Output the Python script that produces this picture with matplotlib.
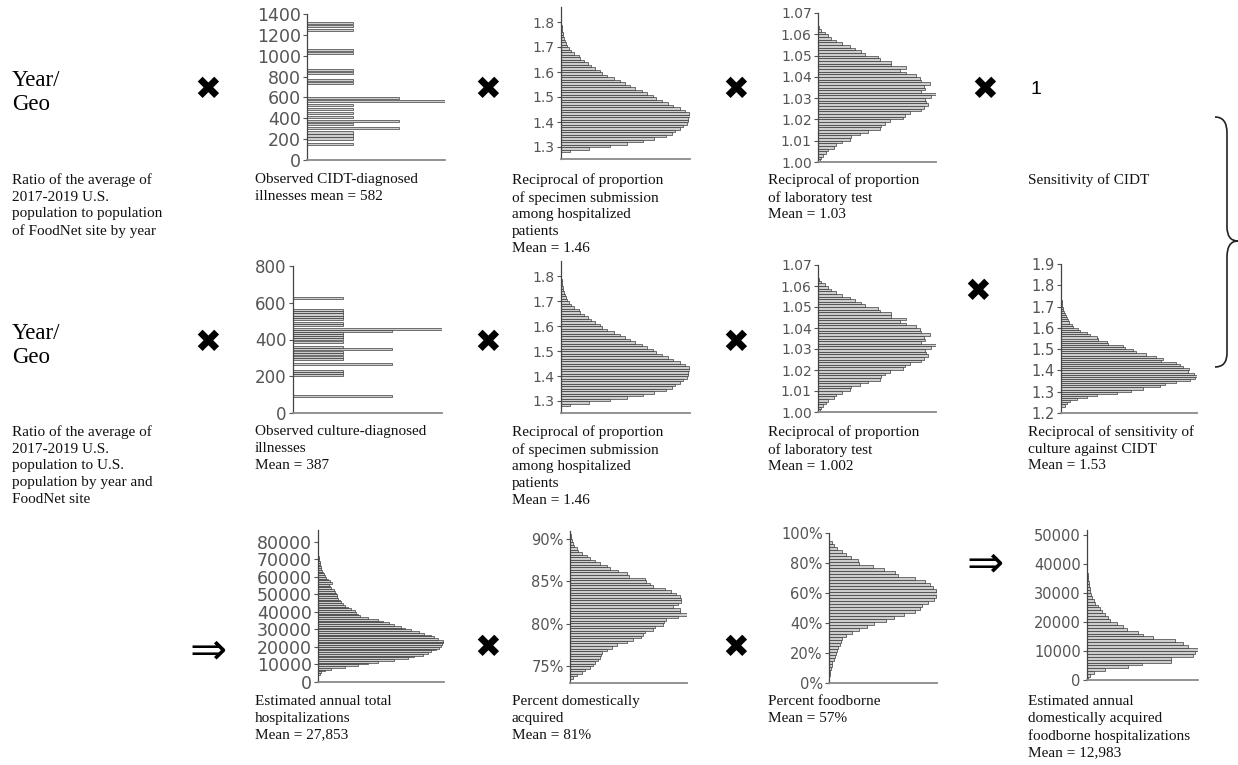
import numpy as np
import matplotlib
matplotlib.use("Agg")
import matplotlib.pyplot as plt
from matplotlib.path import Path
from matplotlib.patches import PathPatch

W, H = 1238, 765

# observed illnesses (discrete values with their counts)
cidt_vals = [154, 206, 235, 264, 306, 344, 376, 415, 454, 486, 528, 563, 595,
             740, 766, 830, 862, 1030, 1059, 1245, 1287, 1310]
cidt_counts = [1, 1, 1, 1, 2, 1, 2, 1, 1, 1, 1, 3, 2, 1, 1, 1, 1, 1, 1, 1, 1, 1]

cult_vals = [90, 206, 220, 231, 267, 294, 307, 321, 334, 347, 359, 388, 401, 412,
             424, 437, 448, 459, 477, 488, 511, 524, 536, 549, 558, 627]
cult_counts = [2, 1, 1, 1, 2, 1, 1, 1, 1, 2, 1, 1, 1, 1, 1, 1, 2, 3, 1, 1, 1, 1,
               1, 1, 1, 1]

# reciprocal of specimen submission proportion, bins of 0.01 from 1.28
spec_start, spec_w = 1.28, 0.01
spec_counts = [28, 83, 148, 198, 248, 280, 315, 333, 343, 358, 366, 378, 383, 383,
               388, 386, 373, 358, 338, 323, 303, 286, 276, 258, 243, 223, 208,
               193, 178, 158, 138, 123, 118, 101, 90, 80, 68, 56, 55, 38, 30, 23,
               18, 15, 11, 9, 7, 5, 4, 3, 2, 1, 1, 1, 1, 1]

# reciprocal of laboratory test proportion, bins of 0.00125 from 1.00
lab_start, lab_w = 1.0, 0.00125
lab_counts = [5, 10, 15, 25, 30, 48, 55, 72, 95, 100, 125, 150, 185, 190, 200, 215,
              255, 260, 275, 310, 318, 330, 325, 320, 340, 354, 310, 320, 318, 335,
              310, 305, 295, 265, 245, 265, 218, 220, 185, 180, 140, 130, 110, 95,
              72, 55, 40, 30, 20, 10, 3]

# reciprocal of culture sensitivity, bins of 0.01 from 1.23
sens_start, sens_w = 1.23, 0.01
sens_counts = [12, 19, 27, 47, 77, 107, 167, 210, 247, 297, 312, 347, 387, 402, 409,
               400, 382, 385, 367, 357, 347, 302, 307, 287, 257, 227, 217, 192, 187,
               142, 137, 112, 107, 87, 77, 57, 52, 35, 32, 25, 22, 18, 15, 12, 9, 7,
               5, 4, 3, 2, 1, 1, 1, 1, 1, 1, 1]

# total hospitalizations, bins of 1000 from 4000
hosp_start, hosp_w = 4000, 1000
hosp_counts = [5, 10, 20, 40, 80, 120, 150, 180, 230, 270, 290, 315, 330, 340, 355,
               365, 370, 372, 379, 375, 360, 350, 340, 320, 305, 280, 262, 250, 230,
               215, 195, 180, 150, 125, 120, 115, 110, 100, 90, 80, 75, 70, 65, 60,
               58, 56, 55, 50, 47, 40, 37, 32, 42, 35, 30, 25, 20, 18, 15, 12, 10, 8,
               7, 6, 5, 4, 3, 2, 1, 1, 1, 1, 1]

# percent domestically acquired, bins of 0.3 from 73.45
dom_start, dom_w = 73.45, 0.3
dom_counts = [10, 20, 35, 45, 60, 70, 75, 85, 90, 92, 95, 110, 125, 140, 170, 190,
              215, 220, 225, 250, 255, 280, 282, 290, 325, 352, 330, 330, 310, 325,
              335, 335, 330, 320, 305, 285, 250, 240, 230, 225, 178, 170, 145, 120,
              110, 90, 75, 60, 50, 35, 25, 20, 12, 8, 5, 3, 2, 1]

# percent foodborne, bins of 2 from 5
food_start, food_w = 5, 2
food_counts = [2, 3, 5, 8, 10, 14, 18, 22, 25, 28, 32, 35, 40, 50, 70, 90, 112, 135,
               170, 195, 225, 255, 270, 278, 295, 312, 318, 322, 318, 310, 300, 285,
               255, 205, 198, 165, 130, 90, 85, 65, 50, 40, 25, 15, 10]

# domestically acquired foodborne hospitalizations, bins of 1000 from 0
dfh_start, dfh_w = 0, 1000
dfh_counts = [3, 10, 20, 55, 125, 165, 255, 255, 320, 325, 335, 305, 290, 265, 200,
              170, 155, 120, 110, 90, 70, 62, 55, 45, 38, 32, 25, 20, 15, 12, 10, 8,
              6, 5, 4, 3, 2, 1, 1, 1, 1, 1, 1, 1, 1]

fig = plt.figure(figsize=(W / 100, H / 100), dpi=100)
bg = fig.add_axes([0, 0, 1, 1])
bg.set_xlim(0, W)
bg.set_ylim(H, 0)
bg.axis("off")


def panel(x0, x1, ytop, ybot, lows, counts, bw, ylim, ticks, labels, fs, xmax=None):
    ax = fig.add_axes([x0 / W, 1 - ybot / H, (x1 - x0) / W, (ybot - ytop) / H])
    ax.barh(lows, counts, height=bw, align="edge", color="#cdcdcd",
            edgecolor="#2b2b2b", linewidth=0.45)
    ax.set_ylim(*ylim)
    ax.set_xlim(0, xmax if xmax else max(counts))
    ax.set_yticks(ticks)
    ax.set_yticklabels(labels, fontsize=fs, color="#555555", family="DejaVu Sans")
    ax.set_xticks([])
    ax.tick_params(axis="y", length=3, width=0.8, color="#555555", pad=1.5)
    for s in ("top", "right"):
        ax.spines[s].set_visible(False)
    ax.spines["left"].set_color("#444444")
    ax.spines["left"].set_linewidth(0.9)
    ax.spines["bottom"].set_color("#8a8a8a")
    ax.spines["bottom"].set_linewidth(1.3)
    ax.patch.set_alpha(0)
    return ax


def lows(start, w, counts):
    return start + w * np.arange(len(counts))


# row 1
panel(307, 445, 14, 160, np.array(cidt_vals) - 10, cidt_counts, 20, (0, 1400),
      range(0, 1401, 200), [str(v) for v in range(0, 1401, 200)], 12.5, xmax=3)
panel(561, 690, 7, 159, lows(spec_start, spec_w, spec_counts), spec_counts, spec_w,
      (1.252, 1.86), [1.3, 1.4, 1.5, 1.6, 1.7, 1.8],
      ["1.3", "1.4", "1.5", "1.6", "1.7", "1.8"], 10)
panel(818, 936, 13, 162, lows(lab_start, lab_w, lab_counts), lab_counts, lab_w,
      (1.0, 1.07), np.linspace(1.0, 1.07, 8),
      ["1.00", "1.01", "1.02", "1.03", "1.04", "1.05", "1.06", "1.07"], 10)

# row 2
panel(293, 442, 266, 413, np.array(cult_vals) - 5.5, cult_counts, 11, (0, 800),
      range(0, 801, 200), [str(v) for v in range(0, 801, 200)], 12, xmax=3)
panel(561, 690, 261, 413, lows(spec_start, spec_w, spec_counts), spec_counts, spec_w,
      (1.252, 1.86), [1.3, 1.4, 1.5, 1.6, 1.7, 1.8],
      ["1.3", "1.4", "1.5", "1.6", "1.7", "1.8"], 10)
panel(818, 936, 265, 412, lows(lab_start, lab_w, lab_counts), lab_counts, lab_w,
      (1.0, 1.07), np.linspace(1.0, 1.07, 8),
      ["1.00", "1.01", "1.02", "1.03", "1.04", "1.05", "1.06", "1.07"], 10)
panel(1061, 1197, 264, 413, lows(sens_start, sens_w, sens_counts), sens_counts, sens_w,
      (1.2, 1.9), np.linspace(1.2, 1.9, 8),
      ["1.2", "1.3", "1.4", "1.5", "1.6", "1.7", "1.8", "1.9"], 10.5)

# row 3
panel(318, 444, 530, 682, lows(hosp_start, hosp_w, hosp_counts), hosp_counts, hosp_w,
      (0, 86857), range(0, 80001, 10000),
      [str(v) for v in range(0, 80001, 10000)], 12.5)
panel(570, 687, 531, 683, lows(dom_start, dom_w, dom_counts), dom_counts, dom_w,
      (72.98, 90.95), [75, 80, 85, 90], ["75%", "80%", "85%", "90%"], 10.5)
panel(829, 937, 533, 683, lows(food_start, food_w, food_counts), food_counts, food_w,
      (0, 100), range(0, 101, 20), ["%d%%" % v for v in range(0, 101, 20)], 10.5)
panel(1087, 1198, 530, 680, lows(dfh_start, dfh_w, dfh_counts), dfh_counts, dfh_w,
      (0, 51724), range(0, 50001, 10000),
      [str(v) for v in range(0, 50001, 10000)], 10.5)

serif = dict(family="Liberation Serif", fontsize=11, color="#111111",
             va="top", ha="left", linespacing=1.38)

for y in (70, 323):
    bg.text(12, y, "Year/\nGeo", family="Liberation Serif", fontsize=16.5,
            va="top", ha="left", linespacing=1.2)

captions = [
    (12, 173, "Ratio of the average of\n2017-2019 U.S.\npopulation to population\nof FoodNet site by year"),
    (255, 173, "Observed CIDT-diagnosed\nillnesses mean = 582"),
    (512, 173, "Reciprocal of proportion\nof specimen submission\namong hospitalized\npatients\nMean = 1.46"),
    (768, 173, "Reciprocal of proportion\nof laboratory test\nMean = 1.03"),
    (1028, 173, "Sensitivity of CIDT"),
    (12, 425, "Ratio of the average of\n2017-2019 U.S.\npopulation to U.S.\npopulation by year and\nFoodNet site"),
    (255, 425, "Observed culture-diagnosed\nillnesses\nMean = 387"),
    (512, 425, "Reciprocal of proportion\nof specimen submission\namong hospitalized\npatients\nMean = 1.46"),
    (768, 425, "Reciprocal of proportion\nof laboratory test\nMean = 1.002"),
    (1028, 425, "Reciprocal of sensitivity of\nculture against CIDT\nMean = 1.53"),
    (255, 695, "Estimated annual total\nhospitalizations\nMean = 27,853"),
    (512, 695, "Percent domestically\nacquired\nMean = 81%"),
    (768, 695, "Percent foodborne\nMean = 57%"),
    (1028, 695, "Estimated annual\ndomestically acquired\nfoodborne hospitalizations\nMean = 12,983"),
]
for x, y, s in captions:
    bg.text(x, y, s, **serif)

# operators between panels
times_marks = [(208, 90), (488, 90), (736, 90), (985, 90),
               (208, 343), (488, 343), (736, 343), (978, 292),
               (488, 648), (736, 648)]
for x, y in times_marks:
    bg.text(x, y, "\u2716", family="DejaVu Sans", fontsize=23, ha="center",
            va="center", color="black")
bg.text(1030, 89, "1", family="Liberation Sans", fontsize=14, ha="left", va="center")

for x, y in [(208, 651), (985, 564)]:
    bg.text(x, y, "\u21d2", family="DejaVu Sans", fontsize=32, ha="center",
            va="center", color="black")

# right-hand brace grouping the first two rows
verts = [(1215, 117), (1227, 117), (1227, 133),
         (1227, 227),
         (1227, 241), (1238, 241),
         (1227, 241), (1227, 257),
         (1227, 353),
         (1227, 367), (1215, 367)]
codes = [Path.MOVETO, Path.CURVE3, Path.CURVE3,
         Path.LINETO,
         Path.CURVE3, Path.CURVE3,
         Path.CURVE3, Path.CURVE3,
         Path.LINETO,
         Path.CURVE3, Path.CURVE3]
bg.add_patch(PathPatch(Path(verts, codes), fill=False, lw=1.2, color="#222222"))

fig.savefig("out.png", dpi=100)
